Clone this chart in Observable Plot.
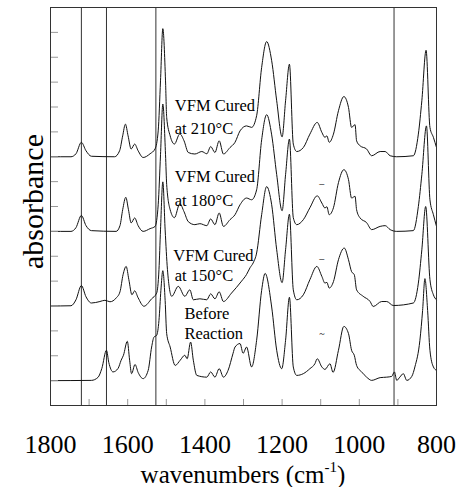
<!DOCTYPE html>
<html>
<head>
<meta charset="utf-8">
<script src="https://cdn.jsdelivr.net/npm/d3@7"></script>
<script src="https://cdn.jsdelivr.net/npm/@observablehq/plot@0.6"></script>
<style>
html, body { margin: 0; padding: 0; background: #fff; }
#chart svg { display: block; }
</style>
</head>
<body>
<div id="chart"></div>
<script>
// [wavenumber (cm-1), absorbance (stacked, arbitrary units)]
const cured210 = [[1800,10.00],[1747,10.00],[1734,10.12],[1720,10.58],[1708,10.24],[1694,10.02],[1634,10.00],[1621,10.24],[1613,10.84],[1606,11.31],[1599,10.84],[1591,10.31],[1582,10.51],[1573,10.24],[1560,9.97],[1542,10.12],[1529,10.32],[1521,11.04],[1515,13.05],[1509,15.15],[1502,13.05],[1499,11.58],[1490,10.84],[1479,10.51],[1465,10.92],[1454,10.64],[1443,10.17],[1426,10.11],[1408,10.21],[1395,10.12],[1385,10.41],[1374,10.17],[1363,10.64],[1352,10.11],[1335,10.37],[1322,10.58],[1309,11.04],[1292,11.24],[1279,11.18],[1266,11.65],[1253,13.59],[1240,14.63],[1227,13.86],[1214,12.25],[1200,10.80],[1191,12.25],[1181,13.72],[1171,10.51],[1162,10.21],[1145,10.37],[1128,10.91],[1109,11.38],[1097,10.98],[1089,10.78],[1084,10.84],[1078,10.58],[1067,10.91],[1054,11.85],[1040,12.42],[1028,11.98],[1020,11.18],[1011,11.29],[1007,10.64],[998,10.44],[981,10.31],[968,10.04],[946,10.21],[933,10.21],[920,10.04],[903,10.00],[860,10.04],[847,10.91],[838,12.25],[827,14.28],[817,11.18],[808,10.78],[800,10.37]];

const cured180 = [[1800,7.00],[1747,7.00],[1734,7.15],[1720,7.64],[1708,7.23],[1694,7.03],[1630,7.00],[1620,7.23],[1613,7.87],[1605,8.37],[1598,7.87],[1591,7.34],[1582,7.54],[1573,7.23],[1560,7.00],[1542,7.11],[1529,7.20],[1521,8.07],[1515,10.08],[1509,12.12],[1502,10.08],[1499,8.88],[1490,7.87],[1479,7.55],[1465,8.11],[1454,7.79],[1443,7.39],[1426,7.27],[1413,7.31],[1395,7.23],[1385,7.50],[1374,7.27],[1363,7.74],[1352,7.20],[1335,7.47],[1322,7.67],[1309,8.07],[1292,8.34],[1279,8.27],[1266,8.67],[1253,10.68],[1240,11.69],[1227,10.88],[1214,9.28],[1200,7.83],[1191,9.28],[1181,10.71],[1171,7.55],[1162,7.27],[1145,7.47],[1128,7.95],[1109,8.43],[1097,8.14],[1089,7.94],[1084,7.99],[1078,7.67],[1067,7.95],[1054,8.96],[1040,9.48],[1028,9.08],[1020,8.34],[1011,8.41],[1007,7.87],[998,7.54],[981,7.35],[968,7.07],[946,7.20],[933,7.23],[920,7.07],[903,7.00],[860,7.03],[847,8.00],[838,9.28],[826,11.24],[817,8.27],[808,7.67],[800,7.20]];

const cured150 = [[1800,4.00],[1747,4.01],[1734,4.25],[1720,4.82],[1708,4.37],[1694,4.12],[1672,4.18],[1659,4.23],[1646,4.17],[1630,4.32],[1620,4.57],[1612,5.26],[1604,5.59],[1597,5.06],[1589,4.45],[1582,4.61],[1573,4.33],[1558,3.99],[1538,4.29],[1525,4.52],[1519,5.46],[1515,7.06],[1509,8.99],[1503,7.06],[1497,5.46],[1486,4.39],[1469,4.79],[1452,4.39],[1439,4.65],[1430,4.25],[1413,4.29],[1395,4.25],[1385,4.49],[1374,4.29],[1363,4.57],[1352,4.18],[1331,4.52],[1305,5.00],[1292,5.27],[1283,5.54],[1275,5.73],[1266,6.13],[1253,7.67],[1240,8.80],[1227,8.07],[1214,6.26],[1200,4.94],[1191,6.26],[1181,7.69],[1171,4.65],[1162,4.25],[1145,4.45],[1128,5.06],[1110,5.59],[1097,5.19],[1089,4.92],[1084,4.95],[1078,4.72],[1067,4.98],[1054,5.86],[1039,6.33],[1028,5.86],[1020,5.38],[1013,5.26],[1007,4.65],[990,4.39],[972,4.18],[964,3.98],[942,4.18],[929,4.18],[912,4.02],[860,4.12],[847,4.92],[838,6.26],[828,8.00],[817,5.06],[808,4.45],[800,4.25]];

const beforeReaction = [[1800,1.00],[1694,1.01],[1677,1.13],[1667,1.49],[1655,2.22],[1649,1.73],[1638,1.35],[1625,1.49],[1617,1.82],[1611,2.02],[1601,2.58],[1595,1.82],[1590,1.28],[1581,1.65],[1573,1.33],[1560,1.08],[1547,1.41],[1538,2.35],[1532,2.75],[1525,2.82],[1519,3.42],[1514,4.63],[1509,5.42],[1503,4.22],[1499,2.89],[1490,2.35],[1477,1.61],[1464,1.82],[1452,2.02],[1446,1.88],[1437,2.55],[1430,1.82],[1421,1.21],[1395,1.14],[1385,1.35],[1374,1.14],[1363,1.48],[1352,1.14],[1340,1.41],[1327,2.10],[1322,2.35],[1309,2.49],[1301,2.10],[1292,2.35],[1279,1.55],[1266,2.62],[1253,4.63],[1244,5.31],[1227,3.96],[1214,2.22],[1201,1.48],[1191,2.62],[1181,4.35],[1171,1.55],[1162,1.21],[1145,1.28],[1128,1.48],[1115,1.68],[1109,1.88],[1097,1.55],[1089,1.45],[1076,1.68],[1068,1.33],[1054,2.22],[1040,3.18],[1028,2.89],[1020,2.22],[1013,2.02],[1007,1.61],[994,1.35],[981,1.14],[968,1.01],[946,1.12],[929,1.14],[916,1.17],[909,1.35],[903,1.01],[895,1.14],[886,1.28],[877,1.01],[864,1.17],[856,1.55],[843,2.62],[836,3.82],[830,5.10],[823,3.82],[817,2.22],[808,1.55],[800,1.41]];

const seriesNames = ["VFM Cured at 210°C", "VFM Cured at 180°C", "VFM Cured at 150°C", "Before Reaction"];
const seriesData = [cured210, cured180, cured150, beforeReaction];

// reference wavenumbers marked with vertical lines
const markerLines = [1720, 1655, 1527, 910];

// axis ticks
const xTickLabels = [1800, 1600, 1400, 1200, 1000, 800];
const xMinorTicks = [1800, 1700, 1600, 1500, 1400, 1300, 1200, 1100, 1000, 900, 800];
const yTicks = [1, 2, 3, 4, 5, 6, 7, 8, 9, 10, 11, 12, 13, 14, 15];

// curve labels (text, wavenumber, absorbance at text baseline)
const labelText = ["VFM Cured", "at 210°C", "VFM Cured", "at 180°C", "VFM Cured", "at 150°C", "Before", "Reaction"];
const labelWn   = [1478, 1478, 1478, 1478, 1482, 1478, 1453, 1453];
const labelAbs  = [11.85, 10.91, 8.97, 8.03, 5.82, 5.02, 3.48, 2.68];

// small marks near 1097 cm-1
const smallMarkText = ["–", "–", "~"];
const smallMarkWn   = [1097, 1097, 1097];
const smallMarkAbs  = [8.90, 5.89, 2.88];

const rows = seriesData.flatMap((s, i) => s.map(([wn, a]) => ({series: seriesNames[i], wn, abs: a})));
const labels = labelText.map((t, i) => ({t, wn: labelWn[i], abs: labelAbs[i]}));
const smallMarks = smallMarkText.map((t, i) => ({t, wn: smallMarkWn[i], abs: smallMarkAbs[i]}));

const serif = "Liberation Serif, Times New Roman, Times, serif";

const chart = Plot.plot({
  width: 460,
  height: 487,
  marginLeft: 50,
  marginRight: 24,
  marginTop: 7,
  marginBottom: 82,
  style: {fontFamily: serif, background: "#fff", color: "#000", overflow: "visible"},
  x: {domain: [1800, 800], label: null},
  y: {domain: [0, 16], label: null},
  marks: [
    Plot.ruleX(markerLines, {stroke: "#333", strokeWidth: 1}),
    Plot.line(rows, {x: "wn", y: "abs", z: "series", stroke: "#111", strokeWidth: 1, curve: "monotone-x"}),
    Plot.axisX({ticks: xMinorTicks, tickSize: -6, tickFormat: () => "", stroke: "#999", label: null}),
    Plot.axisX({ticks: xTickLabels, tickSize: 0, tickPadding: 29, fontSize: 26, fontFamily: serif, tickFormat: d3.format("d"), label: null}),
    Plot.axisY({ticks: yTicks, tickSize: -8, tickFormat: () => "", stroke: "#999", label: null}),
    Plot.frame({stroke: "#333"}),
    Plot.text(labels, {x: "wn", y: "abs", text: "t", textAnchor: "start", lineAnchor: "bottom", fontSize: 16.5, fontFamily: serif, fill: "#000"}),
    Plot.text(smallMarks, {x: "wn", y: "abs", text: "t", fontSize: 10, fill: "#000"})
  ]
});

const svg = d3.select(chart);
svg.append("text")
  .attr("transform", "translate(43,201.5) rotate(-90)")
  .attr("text-anchor", "middle")
  .attr("font-family", serif)
  .attr("font-size", 30)
  .attr("fill", "#000")
  .text("absorbance");

const xl = svg.append("text")
  .attr("x", 243)
  .attr("y", 483)
  .attr("text-anchor", "middle")
  .attr("font-family", serif)
  .attr("font-size", 25)
  .attr("fill", "#000");
xl.append("tspan").text("wavenumbers (cm");
xl.append("tspan").attr("font-size", 15).attr("dy", -11).text("-1");
xl.append("tspan").attr("dy", 11).text(")");

document.getElementById("chart").appendChild(chart);
</script>
</body>
</html>
